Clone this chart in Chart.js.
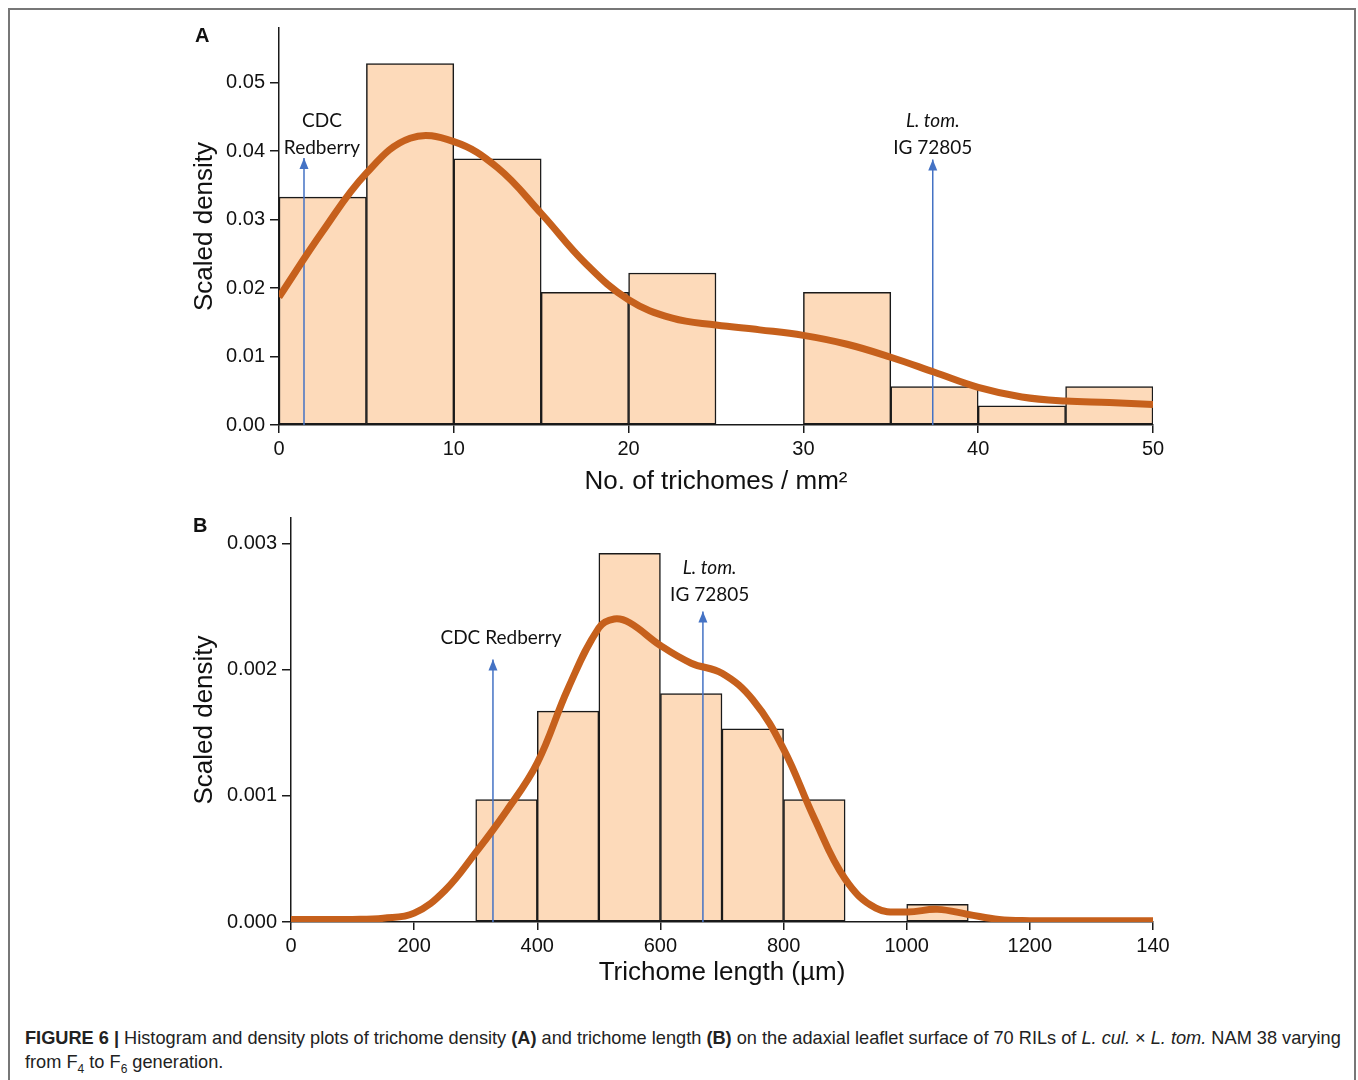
<!DOCTYPE html>
<html>
<head>
<meta charset="utf-8">
<script src="https://cdn.jsdelivr.net/npm/chart.js@4.4.1/dist/chart.umd.min.js"></script>
<style>
  body { margin: 0; background: #fff; width: 1358px; height: 1080px; overflow: hidden; position: relative; font-family: "Liberation Sans", Arial, sans-serif; }
  .frame { position: absolute; left: 8px; top: 8px; width: 1348px; height: 1100px; border: 2px solid #777; box-sizing: border-box; }
  .box { position: absolute; left: 0; width: 1358px; height: 500px; }
  .panel { position: absolute; font-weight: bold; font-size: 20px; color: #111; }
  .caption { position: absolute; left: 25px; top: 1026px; width: 1318px; font-size: 18.2px; line-height: 24px; color: #222; }
  .caption sub { font-size: 12px; line-height: 0; }
</style>
</head>
<body>
<div class="frame"></div>
<div class="box" style="top:0"><canvas id="chartA"></canvas></div>
<div class="box" style="top:500px"><canvas id="chartB"></canvas></div>
<div class="panel" style="left:195px; top:24px">A</div>
<div class="panel" style="left:193px; top:514px">B</div>
<div class="caption"><b>FIGURE 6 |</b> Histogram and density plots of trichome density <b>(A)</b> and trichome length <b>(B)</b> on the adaxial leaflet surface of 70 RILs of <i>L. cul.</i> &times; <i>L. tom.</i> NAM 38 varying from F<sub>4</sub> to F<sub>6</sub> generation.</div>
<script>
// panel A: trichome density
const binsA = [2.5, 7.5, 12.5, 17.5, 22.5, 27.5, 32.5, 37.5, 42.5, 47.5];
const histA = [0.0333, 0.0528, 0.0389, 0.0194, 0.0222, 0, 0.0194, 0.0056, 0.0028, 0.0056];
const kdeXA = [0, 2.5, 5, 7.5, 10, 12.5, 15, 17.5, 20, 22.5, 25, 27.5, 30, 32.5, 35, 37.5, 40, 42.5, 45, 47.5, 50];
const kdeYA = [0.0187, 0.0283, 0.0368, 0.0419, 0.0414, 0.0376, 0.0309, 0.0237, 0.0183, 0.0156, 0.0146, 0.0139, 0.0131, 0.0118, 0.0099, 0.0077, 0.0055, 0.0041, 0.0035, 0.0033, 0.0030];
const notesA = [
  { x: 1.43, tip: 0.039, labelX: 2.46, labelY: 0.0405, lines: [['CDC', false], ['Redberry', false]] },
  { x: 37.4, tip: 0.0388, labelX: 37.4, labelY: 0.0405, lines: [['L. tom.', true], ['IG 72805', false]] }
];

// panel B: trichome length
const binsB = [350, 450, 550, 650, 750, 850, 950, 1050];
const histB = [0.00097, 0.00167, 0.00292, 0.00181, 0.00153, 0.00097, 0, 0.00014];
const kdeXB = [0, 50, 100, 150, 200, 250, 300, 350, 400, 450, 500, 525, 550, 600, 650, 700, 750, 800, 850, 900, 950, 1000, 1050, 1100, 1150, 1200, 1250, 1300, 1350, 1400];
const kdeYB = [0.00002, 0.00002, 0.00002, 0.00003, 0.00007, 0.00025, 0.00055, 0.00088, 0.00126, 0.00185, 0.00233, 0.0024, 0.00237, 0.00219, 0.00205, 0.00197, 0.00176, 0.00137, 0.00082, 0.00034, 0.00011, 0.00008, 0.0001, 0.00006, 0.00002, 0.00001, 0.00001, 0.00001, 0.00001, 0.00001];
const notesB = [
  { x: 328, tip: 0.00208, labelX: 341, labelY: 0.00225, lines: [['CDC Redberry', false]] },
  { x: 669, tip: 0.00246, labelX: 680, labelY: 0.00259, lines: [['L. tom.', true], ['IG 72805', false]] }
];

const ORANGE = 'rgb(198, 96, 28)';
const PEACH = 'rgb(253, 218, 186)';
const BLUE = '#4472C4';
const INK = '#1a1a1a';
const SANS = '"Liberation Sans", Arial, sans-serif';

// arrow heads and the little labels above them
const notesPlugin = {
  id: 'notes',
  afterDatasetsDraw(chart, args, opts) {
    const { ctx, scales: { x, y } } = chart;
    ctx.save();
    opts.items.forEach(n => {
      const px = x.getPixelForValue(n.x);
      const py = y.getPixelForValue(n.tip);
      ctx.fillStyle = BLUE;
      ctx.beginPath();
      ctx.moveTo(px, py);
      ctx.lineTo(px - 4.5, py + 11);
      ctx.lineTo(px + 4.5, py + 11);
      ctx.closePath();
      ctx.fill();

      const lx = x.getPixelForValue(n.labelX);
      let ly = y.getPixelForValue(n.labelY);
      ctx.fillStyle = '#111';
      ctx.textAlign = 'center';
      ctx.textBaseline = 'middle';
      n.lines.slice().reverse().forEach(([text, italic]) => {
        ctx.font = (italic ? 'italic ' : '') + '19px Lato, "Open Sans", sans-serif';
        ctx.fillText(text, lx, ly);
        ly -= 27;
      });
    });
    ctx.restore();
  }
};

function makeChart(id, o) {
  const arrows = o.notes.map(n => ({
    type: 'line',
    data: [{ x: n.x, y: 0 }, { x: n.x, y: n.tip }],
    borderColor: BLUE,
    borderWidth: 1.5,
    pointRadius: 0,
    order: 1
  }));

  new Chart(document.getElementById(id), {
    type: 'bar',
    data: {
      datasets: [
        {
          type: 'line',
          data: o.kdeX.map((v, i) => ({ x: v, y: o.kdeY[i] })),
          borderColor: ORANGE,
          borderWidth: 7,
          pointRadius: 0,
          tension: 0.4,
          fill: false,
          order: 0
        },
        ...arrows,
        {
          type: 'bar',
          data: o.bins.map((v, i) => ({ x: v, y: o.hist[i] })),
          backgroundColor: PEACH,
          borderColor: INK,
          borderWidth: 1.5,
          borderSkipped: false,
          barPercentage: 1,
          categoryPercentage: 1,
          order: 2
        }
      ]
    },
    options: {
      responsive: true,
      maintainAspectRatio: false,
      animation: false,
      layout: { padding: { left: 0, right: 205, top: o.top, bottom: 0 } },
      scales: {
        x: {
          type: 'linear',
          min: 0,
          max: o.xMax,
          offset: false,
          border: { color: INK, width: 1.5 },
          grid: { display: true, offset: false, drawOnChartArea: false, drawTicks: true, tickLength: 8, color: INK, lineWidth: 1.5 },
          ticks: {
            stepSize: o.xStep,
            includeBounds: false,
            maxRotation: 0,
            padding: 4,
            color: '#111',
            font: { family: SANS, size: 20 },
            callback: o.xLabel
          },
          title: { display: true, text: o.xTitle, color: '#111', font: { family: SANS, size: 26 }, padding: { top: 0, bottom: o.titlePad } },
          afterFit: s => { s.height = o.xHeight; }
        },
        y: {
          min: 0,
          max: o.yMax,
          border: { color: INK, width: 1.5 },
          grid: { display: true, drawOnChartArea: false, drawTicks: true, tickLength: 9, color: INK, lineWidth: 1.5 },
          ticks: {
            stepSize: o.yStep,
            includeBounds: false,
            padding: 5,
            color: '#111',
            font: { family: SANS, size: 20 },
            callback: v => v.toFixed(o.yDigits)
          },
          title: { display: true, text: 'Scaled density', color: '#111', font: { family: SANS, size: 26 }, padding: { top: 189, bottom: 0 } },
          afterFit: s => { s.width = o.yWidth; }
        }
      },
      plugins: {
        legend: { display: false },
        tooltip: { enabled: false },
        notes: { items: o.notes }
      }
    },
    plugins: [notesPlugin]
  });
}

makeChart('chartA', {
  bins: binsA, hist: histA, kdeX: kdeXA, kdeY: kdeYA, notes: notesA,
  xMax: 50, xStep: 10, yMax: 0.058, yStep: 0.01, yDigits: 2,
  xTitle: 'No. of trichomes / mm²', xLabel: v => v,
  top: 28, xHeight: 75, yWidth: 279, titlePad: 3
});

makeChart('chartB', {
  bins: binsB, hist: histB, kdeX: kdeXB, kdeY: kdeYB, notes: notesB,
  xMax: 1400, xStep: 200, yMax: 0.0032, yStep: 0.001, yDigits: 3,
  xTitle: 'Trichome length (µm)', xLabel: v => (v === 1400 ? '140' : v),
  top: 18, xHeight: 78, yWidth: 291, titlePad: 12
});
</script>
</body>
</html>
